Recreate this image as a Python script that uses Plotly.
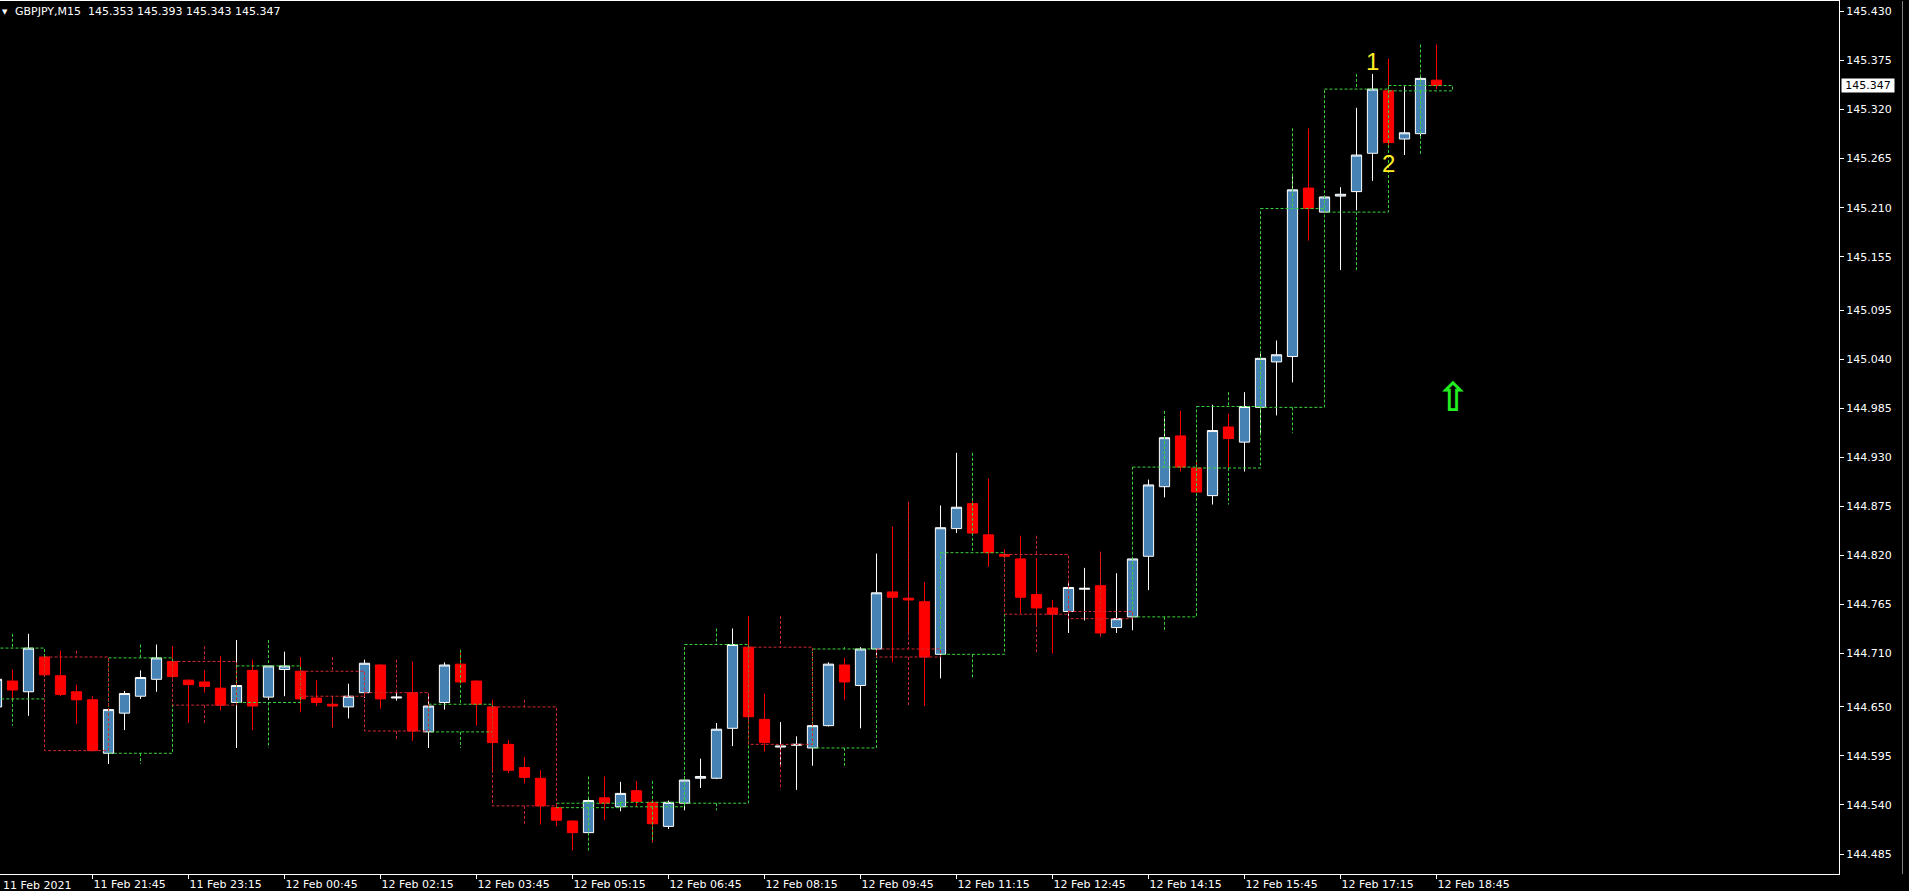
import pandas as pd
import plotly.graph_objects as go

# ---------------- data ----------------
symbol = "GBPJPY,M15"
bar_times = pd.date_range("2021-02-11 20:00", periods=92, freq="15min")
bar_labels = [t.strftime("%d %b %H:%M") for t in bar_times]

opens = [144.659, 144.650, 144.679, 144.667, 144.706, 144.685, 144.667, 144.658, 144.598, 144.643,
         144.662, 144.681, 144.701, 144.680, 144.678, 144.671, 144.655, 144.691, 144.661, 144.692,
         144.690, 144.660, 144.653, 144.650, 144.666, 144.697, 144.660, 144.666, 144.622, 144.655,
         144.698, 144.679, 144.650, 144.608, 144.582, 144.570, 144.537, 144.522, 144.509, 144.548,
         144.538, 144.556, 144.543, 144.516, 144.542, 144.570, 144.570, 144.626, 144.717, 144.636,
         144.605, 144.607, 144.604, 144.629, 144.697, 144.674, 144.715, 144.779, 144.772, 144.768,
         144.709, 144.850, 144.878, 144.843, 144.821, 144.816, 144.776, 144.761, 144.757, 144.782,
         144.786, 144.739, 144.751, 144.819, 144.897, 144.954, 144.918, 144.887, 144.964, 144.947,
         144.986, 145.037, 145.043, 145.232, 145.205, 145.223, 145.228, 145.271, 145.341, 145.287,
         145.293, 145.353]
highs = [144.668, 144.688, 144.692, 144.732, 144.708, 144.713, 144.675, 144.662, 144.648, 144.668,
         144.691, 144.720, 144.718, 144.681, 144.691, 144.707, 144.725, 144.703, 144.697, 144.712,
         144.706, 144.680, 144.662, 144.676, 144.703, 144.698, 144.667, 144.701, 144.665, 144.700,
         144.714, 144.680, 144.658, 144.613, 144.594, 144.579, 144.539, 144.523, 144.547, 144.572,
         144.566, 144.567, 144.546, 144.545, 144.572, 144.592, 144.632, 144.738, 144.752, 144.665,
         144.633, 144.617, 144.631, 144.700, 144.705, 144.717, 144.822, 144.852, 144.880, 144.790,
         144.876, 144.935, 144.882, 144.906, 144.827, 144.842, 144.817, 144.770, 144.789, 144.806,
         144.824, 144.800, 144.818, 144.905, 144.975, 144.982, 144.925, 144.989, 144.979, 145.003,
         145.047, 145.061, 145.245, 145.299, 145.224, 145.233, 145.322, 145.360, 145.377, 145.346,
         145.359, 145.393]
lows = [144.629, 144.640, 144.658, 144.640, 144.684, 144.662, 144.631, 144.600, 144.586, 144.624,
        144.659, 144.667, 144.682, 144.632, 144.666, 144.646, 144.604, 144.624, 144.658, 144.662,
        144.644, 144.651, 144.627, 144.637, 144.660, 144.648, 144.657, 144.612, 144.604, 144.647,
        144.676, 144.629, 144.577, 144.576, 144.564, 144.518, 144.516, 144.489, 144.506, 144.523,
        144.533, 144.538, 144.498, 144.513, 144.534, 144.559, 144.569, 144.606, 144.635, 144.600,
        144.583, 144.557, 144.584, 144.628, 144.658, 144.626, 144.705, 144.700, 144.730, 144.651,
        144.682, 144.845, 144.843, 144.807, 144.817, 144.755, 144.742, 144.710, 144.733, 144.747,
        144.729, 144.733, 144.736, 144.781, 144.885, 144.914, 144.891, 144.877, 144.916, 144.914,
        144.957, 144.977, 145.014, 145.173, 145.204, 145.140, 145.207, 145.240, 145.280, 145.269,
        145.290, 145.343]
closes = [144.650, 144.681, 144.669, 144.716, 144.686, 144.664, 144.658, 144.601, 144.647, 144.665,
          144.683, 144.705, 144.684, 144.675, 144.673, 144.652, 144.674, 144.651, 144.696, 144.696,
          144.659, 144.655, 144.651, 144.662, 144.699, 144.659, 144.661, 144.623, 144.651, 144.697,
          144.678, 144.653, 144.610, 144.579, 144.571, 144.539, 144.523, 144.509, 144.545, 144.542,
          144.553, 144.544, 144.519, 144.543, 144.568, 144.572, 144.625, 144.720, 144.639, 144.610,
          144.606, 144.608, 144.629, 144.698, 144.678, 144.715, 144.778, 144.773, 144.770, 144.706,
          144.851, 144.874, 144.845, 144.823, 144.819, 144.773, 144.761, 144.754, 144.784, 144.783,
          144.733, 144.749, 144.816, 144.899, 144.952, 144.919, 144.891, 144.960, 144.951, 144.987,
          145.041, 145.045, 145.230, 145.209, 145.222, 145.225, 145.269, 145.343, 145.283, 145.294,
          145.355, 145.347]

price_tick_labels = ["145.430", "145.375", "145.320", "145.265", "145.210", "145.155", "145.095",
                     "145.040", "144.985", "144.930", "144.875", "144.820", "144.765", "144.710",
                     "144.650", "144.595", "144.540", "144.485"]
time_tick_labels = ["11 Feb 21:45", "11 Feb 23:15", "12 Feb 00:45", "12 Feb 02:15", "12 Feb 03:45",
                    "12 Feb 05:15", "12 Feb 06:45", "12 Feb 08:15", "12 Feb 09:45", "12 Feb 11:15",
                    "12 Feb 12:45", "12 Feb 14:15", "12 Feb 15:45", "12 Feb 17:15", "12 Feb 18:45"]
first_date_label = "11 Feb 2021"

wave_labels = ["1", "2"]
wave_bars = ["12 Feb 17:45", "12 Feb 18:00"]
wave_prices = [145.374, 145.260]

signal_price = 144.998   # up arrow, drawn on the next (forming) bar slot

# ---------------- geometry ----------------
W, H = 1909, 891
ML, MR, MT, MB = 0, 70, 1, 17
PW = W - ML - MR
PH = H - MT - MB
BAR_PX = 16.0
x_first = -19.5          # pixel position of the first bar centre (half pixel -> crisp lines)
y_top, y_bot = 145.4418, 144.4626

xs = list(range(len(bar_labels)))
x_lo = (0 - x_first) / BAR_PX
x_hi = x_lo + PW / BAR_PX

fig = go.Figure()

fig.add_trace(go.Candlestick(
    x=xs, open=opens, high=highs, low=lows, close=closes,
    increasing=dict(line=dict(color="#FFFFFF", width=1), fillcolor="#4682B4"),
    decreasing=dict(line=dict(color="#FF0000", width=1), fillcolor="#FF0000"),
    whiskerwidth=0, hoverinfo="skip", showlegend=False,
))

# ---- hourly (H1) candle boxes built from the M15 bars ----
hour_keys = [t.floor("h") for t in bar_times]
groups = {}
for i, hk in enumerate(hour_keys):
    groups.setdefault(hk, []).append(i)

box_paths = {"up": ([], []), "down": ([], [])}
for hk, idx in groups.items():
    s = idx[0]
    o = opens[idx[0]]
    c = closes[idx[-1]]
    hi = max(highs[j] for j in idx)
    lo = min(lows[j] for j in idx)
    top, bot = max(o, c), min(o, c)
    x0, x1, xm = s, s + 4, s + 2
    key = "up" if c >= o else "down"
    bx, by = box_paths[key]
    bx += [x0, x1, x1, x0, x0, None]
    by += [top, top, bot, bot, top, None]
    if hi > top:
        bx += [xm, xm, None]
        by += [hi, top, None]
    if lo < bot:
        bx += [xm, xm, None]
        by += [bot, lo, None]

for key, col in (("up", "#3CD23C"), ("down", "#D02830")):
    bx, by = box_paths[key]
    fig.add_trace(go.Scatter(x=bx, y=by, mode="lines",
                             line=dict(color=col, width=1, dash="3px,2px"),
                             hoverinfo="skip", showlegend=False, connectgaps=False))

font = "DejaVu Sans"
annotations = []
# wave labels
for txt, bar, pr in zip(wave_labels, wave_bars, wave_prices):
    annotations.append(dict(x=bar_labels.index(bar), y=pr, xref="x", yref="y", text=txt,
                            showarrow=False, font=dict(family="Liberation Sans", size=24, color="#FFEE22"),
                            xanchor="center", yanchor="middle"))
# signal arrow
annotations.append(dict(x=len(bar_labels), y=signal_price, xref="x", yref="y", text="\u21e7",
                        showarrow=False, font=dict(family=font, size=40, color="#22EE22", weight="bold"),
                        xanchor="center", yanchor="middle"))
# header
hdr = "%s\u00a0\u00a0%.3f %.3f %.3f %.3f" % (symbol, opens[-1], highs[-1], lows[-1], closes[-1])
annotations.append(dict(x=13 / PW, y=1 - 11 / PH, xref="paper", yref="paper", text=hdr,
                        showarrow=False, font=dict(family=font, size=11, color="#FFFFFF"),
                        xanchor="left", yanchor="middle"))
annotations.append(dict(x=4.5 / PW, y=1 - 11 / PH, xref="paper", yref="paper", text="\u25bc",
                        showarrow=False, font=dict(family=font, size=7, color="#FFFFFF"),
                        xanchor="center", yanchor="middle"))
# first date label on the time axis (kept fully inside the picture)
annotations.append(dict(x=1 / PW, y=-11 / PH, xref="paper", yref="paper", text=first_date_label,
                        showarrow=False, font=dict(family=font, size=11, color="#FFFFFF"),
                        xanchor="left", yanchor="middle"))
# current price label
annotations.append(dict(x=(PW + 2) / PW, y=closes[-1], xref="paper", yref="y",
                        text="%.3f" % closes[-1], showarrow=False,
                        font=dict(family=font, size=11, color="#000000"),
                        bgcolor="#FFFFFF", width=52, align="center", borderpad=0,
                        xanchor="left", yanchor="middle"))

shapes = [dict(type="line", xref="paper", yref="paper", x0=(1902.5 - ML) / PW, x1=(1902.5 - ML) / PW,
               y0=0, y1=1, line=dict(color="#7F7F7F", width=1))]

tick_idx = [bar_labels.index(t) for t in time_tick_labels]

fig.update_layout(
    template="none",
    width=W, height=H,
    margin=dict(l=ML, r=MR, t=MT, b=MB, pad=0),
    paper_bgcolor="#000000", plot_bgcolor="#000000",
    boxgap=0.2, boxgroupgap=0.2,
    showlegend=False,
    annotations=annotations,
    shapes=shapes,
    xaxis=dict(range=[x_lo, x_hi], rangeslider=dict(visible=False), showgrid=False, zeroline=False,
               showline=True, linecolor="#FFFFFF", linewidth=1, mirror=True,
               ticks="outside", ticklen=4, tickcolor="#FFFFFF", tickwidth=1,
               tickmode="array", tickvals=tick_idx, ticktext=time_tick_labels,
               ticklabelposition="outside right",
               tickfont=dict(family=font, size=11, color="#FFFFFF"), automargin=False,
               fixedrange=True),
    yaxis=dict(range=[y_bot, y_top], side="right", showgrid=False, zeroline=False,
               showline=True, linecolor="#FFFFFF", linewidth=1,
               ticks="outside", ticklen=4, tickcolor="#FFFFFF", tickwidth=1,
               tickmode="array", tickvals=[float(v) for v in price_tick_labels],
               ticktext=price_tick_labels,
               tickfont=dict(family=font, size=11, color="#FFFFFF"), automargin=False,
               fixedrange=True),
)

fig.write_html("out.html", config={"displayModeBar": False},
               post_script="document.body.style.margin='0';document.body.style.overflow='hidden';")
